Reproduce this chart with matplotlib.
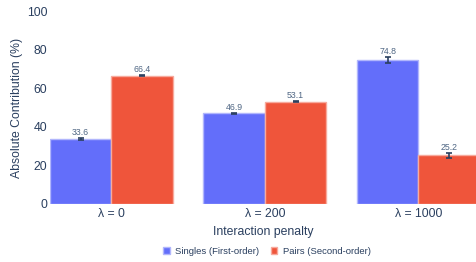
import matplotlib
matplotlib.use("Agg")
import matplotlib.pyplot as plt
import numpy as np
from matplotlib.patches import Patch

categories = ["λ = 0", "λ = 200", "λ = 1000"]
singles = [33.6, 46.9, 74.8]
singles_err = [0.4, 0.4, 1.5]
pairs = [66.4, 53.1, 25.2]
pairs_err = [0.3, 0.4, 1.4]
yticks = [0, 20, 40, 60, 80, 100]

plt.rcParams['font.family'] = ['Liberation Sans', 'DejaVu Sans']
W, H = 477, 262
fig = plt.figure(figsize=(W / 100, H / 100), dpi=100)
left, right, top, bottom = 50, 477, 11, 204
ax = fig.add_axes([left / W, 1 - bottom / H, (right - left) / W, (bottom - top) / H])

blue = "#636EFA"
red = "#EF553B"
txt = "#2a3f5f"
x = np.arange(len(categories))
bw = 0.4
ax.bar(x - bw / 2, singles, bw, color=blue, edgecolor="#b1b6fc", linewidth=1, zorder=2)
ax.bar(x + bw / 2, pairs, bw, color=red, edgecolor="#f7aa9d", linewidth=1, zorder=2)
ax.errorbar(x - bw / 2, singles, yerr=singles_err, fmt='none', ecolor=txt, elinewidth=1.2, capsize=2.5, capthick=1.2, zorder=3)
ax.errorbar(x + bw / 2, pairs, yerr=pairs_err, fmt='none', ecolor=txt, elinewidth=1.2, capsize=2.5, capthick=1.2, zorder=3)
for xi, v, e in zip(x - bw / 2, singles, singles_err):
    ax.text(xi, v + e + 0.6, f"{v:.1f}", ha='center', va='bottom', fontsize=6.3, color="#506784")
for xi, v, e in zip(x + bw / 2, pairs, pairs_err):
    ax.text(xi, v + e + 0.6, f"{v:.1f}", ha='center', va='bottom', fontsize=6.3, color="#506784")

ax.set_xlim(-0.4, -0.4 + (right - left) / 153.5)
ax.set_ylim(0, 100)
ax.set_xticks(x)
ax.set_xticklabels(categories)
ax.set_yticks(yticks)
ax.tick_params(axis='both', length=0, labelsize=8.8, colors=txt, pad=2)
ax.tick_params(axis='x', pad=3)
for s in ax.spines.values():
    s.set_visible(False)
ax.set_xlabel("Interaction penalty", fontsize=8.8, color=txt, labelpad=4)
ax.set_ylabel("Absolute Contribution (%)", fontsize=8.8, color=txt, labelpad=3)

handles = [Patch(facecolor=blue, edgecolor="#b1b6fc"), Patch(facecolor=red, edgecolor="#f7aa9d")]
fig.legend(handles, ["Singles (First-order)", "Pairs (Second-order)"], loc='center',
           bbox_to_anchor=(267 / W, 1 - 251 / H), ncol=2, frameon=False, fontsize=6.8,
           handlelength=0.7, handleheight=0.7, handletextpad=0.6, columnspacing=1.2,
           labelcolor=txt)
fig.savefig("out.png", dpi=100)
